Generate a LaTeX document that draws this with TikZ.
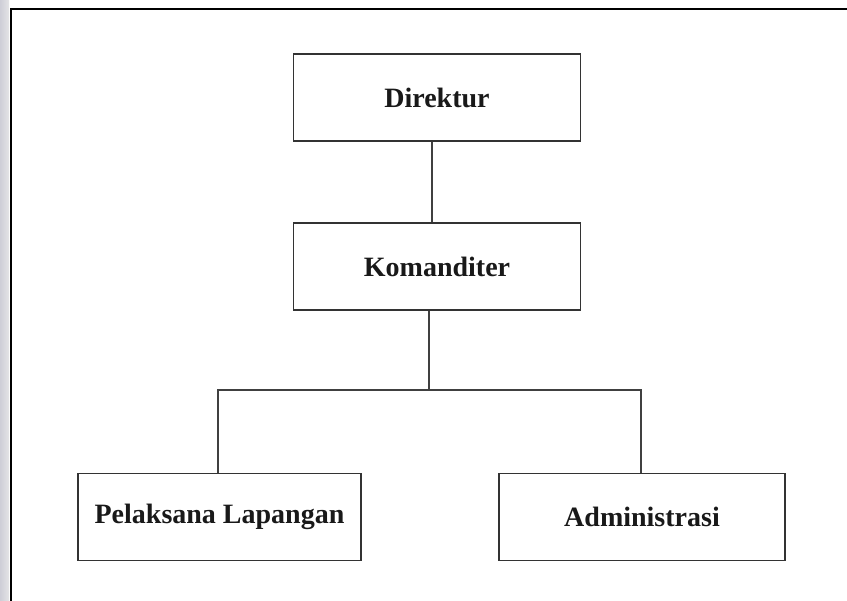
\documentclass[tikz,border=0pt]{standalone}
\usepackage{fontspec}
\setmainfont{Liberation Serif}
\begin{document}
\begin{tikzpicture}[x=1pt,y=-1pt,
  orgbox/.style={draw=black!80, line width=1.6pt, minimum height=87pt, inner sep=0pt,
    font=\bfseries\fontsize{28}{30}\selectfont, text=black!90},
  link/.style={draw=black!75, line width=1.4pt}]
\useasboundingbox (0,0) rectangle (847,601);
\fill[white] (0,0) rectangle (847,601);
\fill[left color=blue!10!gray!35, right color=blue!5!gray!20] (0,0) rectangle (9,601);
\draw[line width=2.4pt, black] (11,601) -- (11,9) -- (847,9);
\node[orgbox, minimum width=287pt] (dir) at (437,97.5) {Direktur};
\node[orgbox, minimum width=287pt] (kom) at (437,266.5) {Komanditer};
\node[orgbox, minimum width=283pt] (pl) at (219.5,517) {Pelaksana Lapangan};
\node[orgbox, minimum width=286pt] (adm) at (642,517) {Administrasi};
\coordinate (bus) at (429,390);
\coordinate (upper) at (432,0);
\draw[link] (dir.south -| upper) -- (kom.north -| upper);
\draw[link] (kom.south -| bus) -- (bus);
\draw[link] ([xshift=-1.5pt]pl.north) -- ([xshift=-1.5pt]pl.north |- bus) -- ([xshift=-1pt]adm.north |- bus) -- ([xshift=-1pt]adm.north);
\end{tikzpicture}
\end{document}
